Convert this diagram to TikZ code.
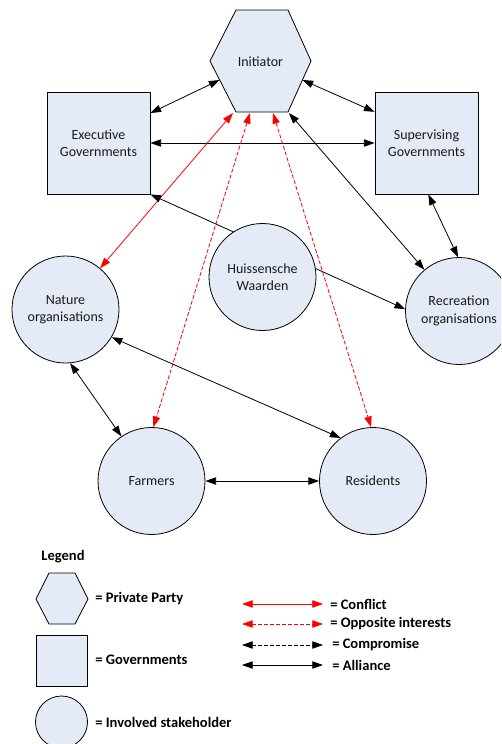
\documentclass[tikz,border=0pt]{standalone}
\usepackage{fontspec}
\setmainfont{Carlito}
\usetikzlibrary{arrows.meta}
\definecolor{nodefill}{RGB}{229,235,246}
\definecolor{conred}{RGB}{255,0,0}
\begin{document}
\begin{tikzpicture}[x=0.75pt,y=-0.75pt,
  txt/.style={font=\fontsize{10.5}{13}\selectfont, text=black!90},
  shapebox/.style={draw=black, line width=0.6pt, fill=nodefill},
  circ/.style={shapebox, circle, minimum size=80.25pt, inner sep=0pt, align=center, txt},
  sq/.style={shapebox, rectangle, minimum width=77.25pt, minimum height=76.5pt, inner sep=0pt, align=center, txt},
  legtxt/.style={anchor=west, inner sep=0pt, font=\bfseries\fontsize{10.9}{13}\selectfont},
  link/.style={line width=0.6pt},
  alliance/.style={link, {Triangle[length=8pt,width=5.5pt]}-{Triangle[length=8pt,width=5.5pt]}},
  oneway/.style={link, -{Triangle[length=8pt,width=5.5pt]}},
  conflict/.style={link, draw=conred, {Triangle[length=8pt,width=5.5pt]}-{Triangle[length=8pt,width=5.5pt]}, conred},
  opposite/.style={conflict, dash pattern=on 3pt off 1.5pt},
  compromise/.style={alliance, dash pattern=on 3pt off 1.5pt}
]
\useasboundingbox (0,0) rectangle (501,744);
\clip (0,0) rectangle (501,744);

% Initiator hexagon
\draw[shapebox] (236,10) -- (288,10) -- (311,61) -- (288,112) -- (236,112) -- (210,61) -- cycle;
\node[txt] (ini) at (260.5,61.5) {Initiator};
\coordinate (iniW) at (219.5,80);
\coordinate (iniE) at (302.5,80);
\coordinate (iniB1) at (233,113);
\coordinate (iniB2) at (250,113);
\coordinate (iniB3) at (273,113);
\coordinate (iniB4) at (289,113);

% Governments
\node[sq] (exe) at (98.5,143) {Executive\\Governments};
\node[sq] (sup) at (426.5,143) {Supervising\\Governments};

% Stakeholders
\node[circ] (hw)  at (262.5,277) {Huissensche\\Waarden};
\node[circ] (nat) at (65.5,309.5) {Nature\\organisations};
\node[circ] (rec) at (459,311) {Recreation\\organisations};
\node[circ] (far) at (151.5,481) {Farmers};
\node[circ] (res) at (373,481) {Residents};

% Connectors
\draw[alliance] (iniW) -- (exe.30);
\draw[alliance] (iniE) -- (sup.149);
\draw[alliance] (exe.east) -- (sup.west);
\draw[conflict] (iniB1) -- (nat.50);
\draw[opposite] (iniB2) -- (far.88);
\draw[opposite] (iniB3) -- (res.92);
\draw[alliance] (iniB4) -- (rec.130);
\draw[oneway] (hw.123) -- (exe.south east);
\draw[oneway] (hw.9) -- (rec.178);
\draw[alliance] (sup.-88) -- (rec.91);
\draw[alliance] (nat.-85) -- (far.124);
\draw[alliance] (nat.-31) -- (res.127);
\draw[alliance] (far.east) -- (res.west);

% Legend
\node[font=\bfseries\fontsize{10.9}{13}\selectfont] (leg) at (63,557) {Legend};
\draw[shapebox] (49,573) -- (75,573) -- (88,599) -- (75,624) -- (49,624) -- (36,599) -- cycle;
\node[legtxt] (lpp) at (95,599) {= Private Party};
\draw[shapebox] (36,635) rectangle (87,686);
\node[legtxt] (lgov) at (95,660) {= Governments};
\draw[shapebox] (61.5,722) circle[radius=19.5pt];
\node[legtxt] (lst) at (95,722) {= Involved stakeholder};

\coordinate (la1) at (242,604); \coordinate (lb1) at (323,604);
\coordinate (la2) at (242,624); \coordinate (lb2) at (323,624);
\coordinate (la3) at (242,645); \coordinate (lb3) at (323,645);
\coordinate (la4) at (242,665); \coordinate (lb4) at (323,665);
\draw[conflict] (la1) -- (lb1);
\draw[opposite] (la2) -- (lb2);
\draw[compromise] (la3) -- (lb3);
\draw[alliance] (la4) -- (lb4);
\node[legtxt] (t1) at (330,604) {= Conflict};
\node[legtxt] (t2) at (330,624) {= Opposite interests};
\node[legtxt] (t3) at (332,645) {= Compromise};
\node[legtxt] (t4) at (332,665) {= Alliance};
\end{tikzpicture}
\end{document}
